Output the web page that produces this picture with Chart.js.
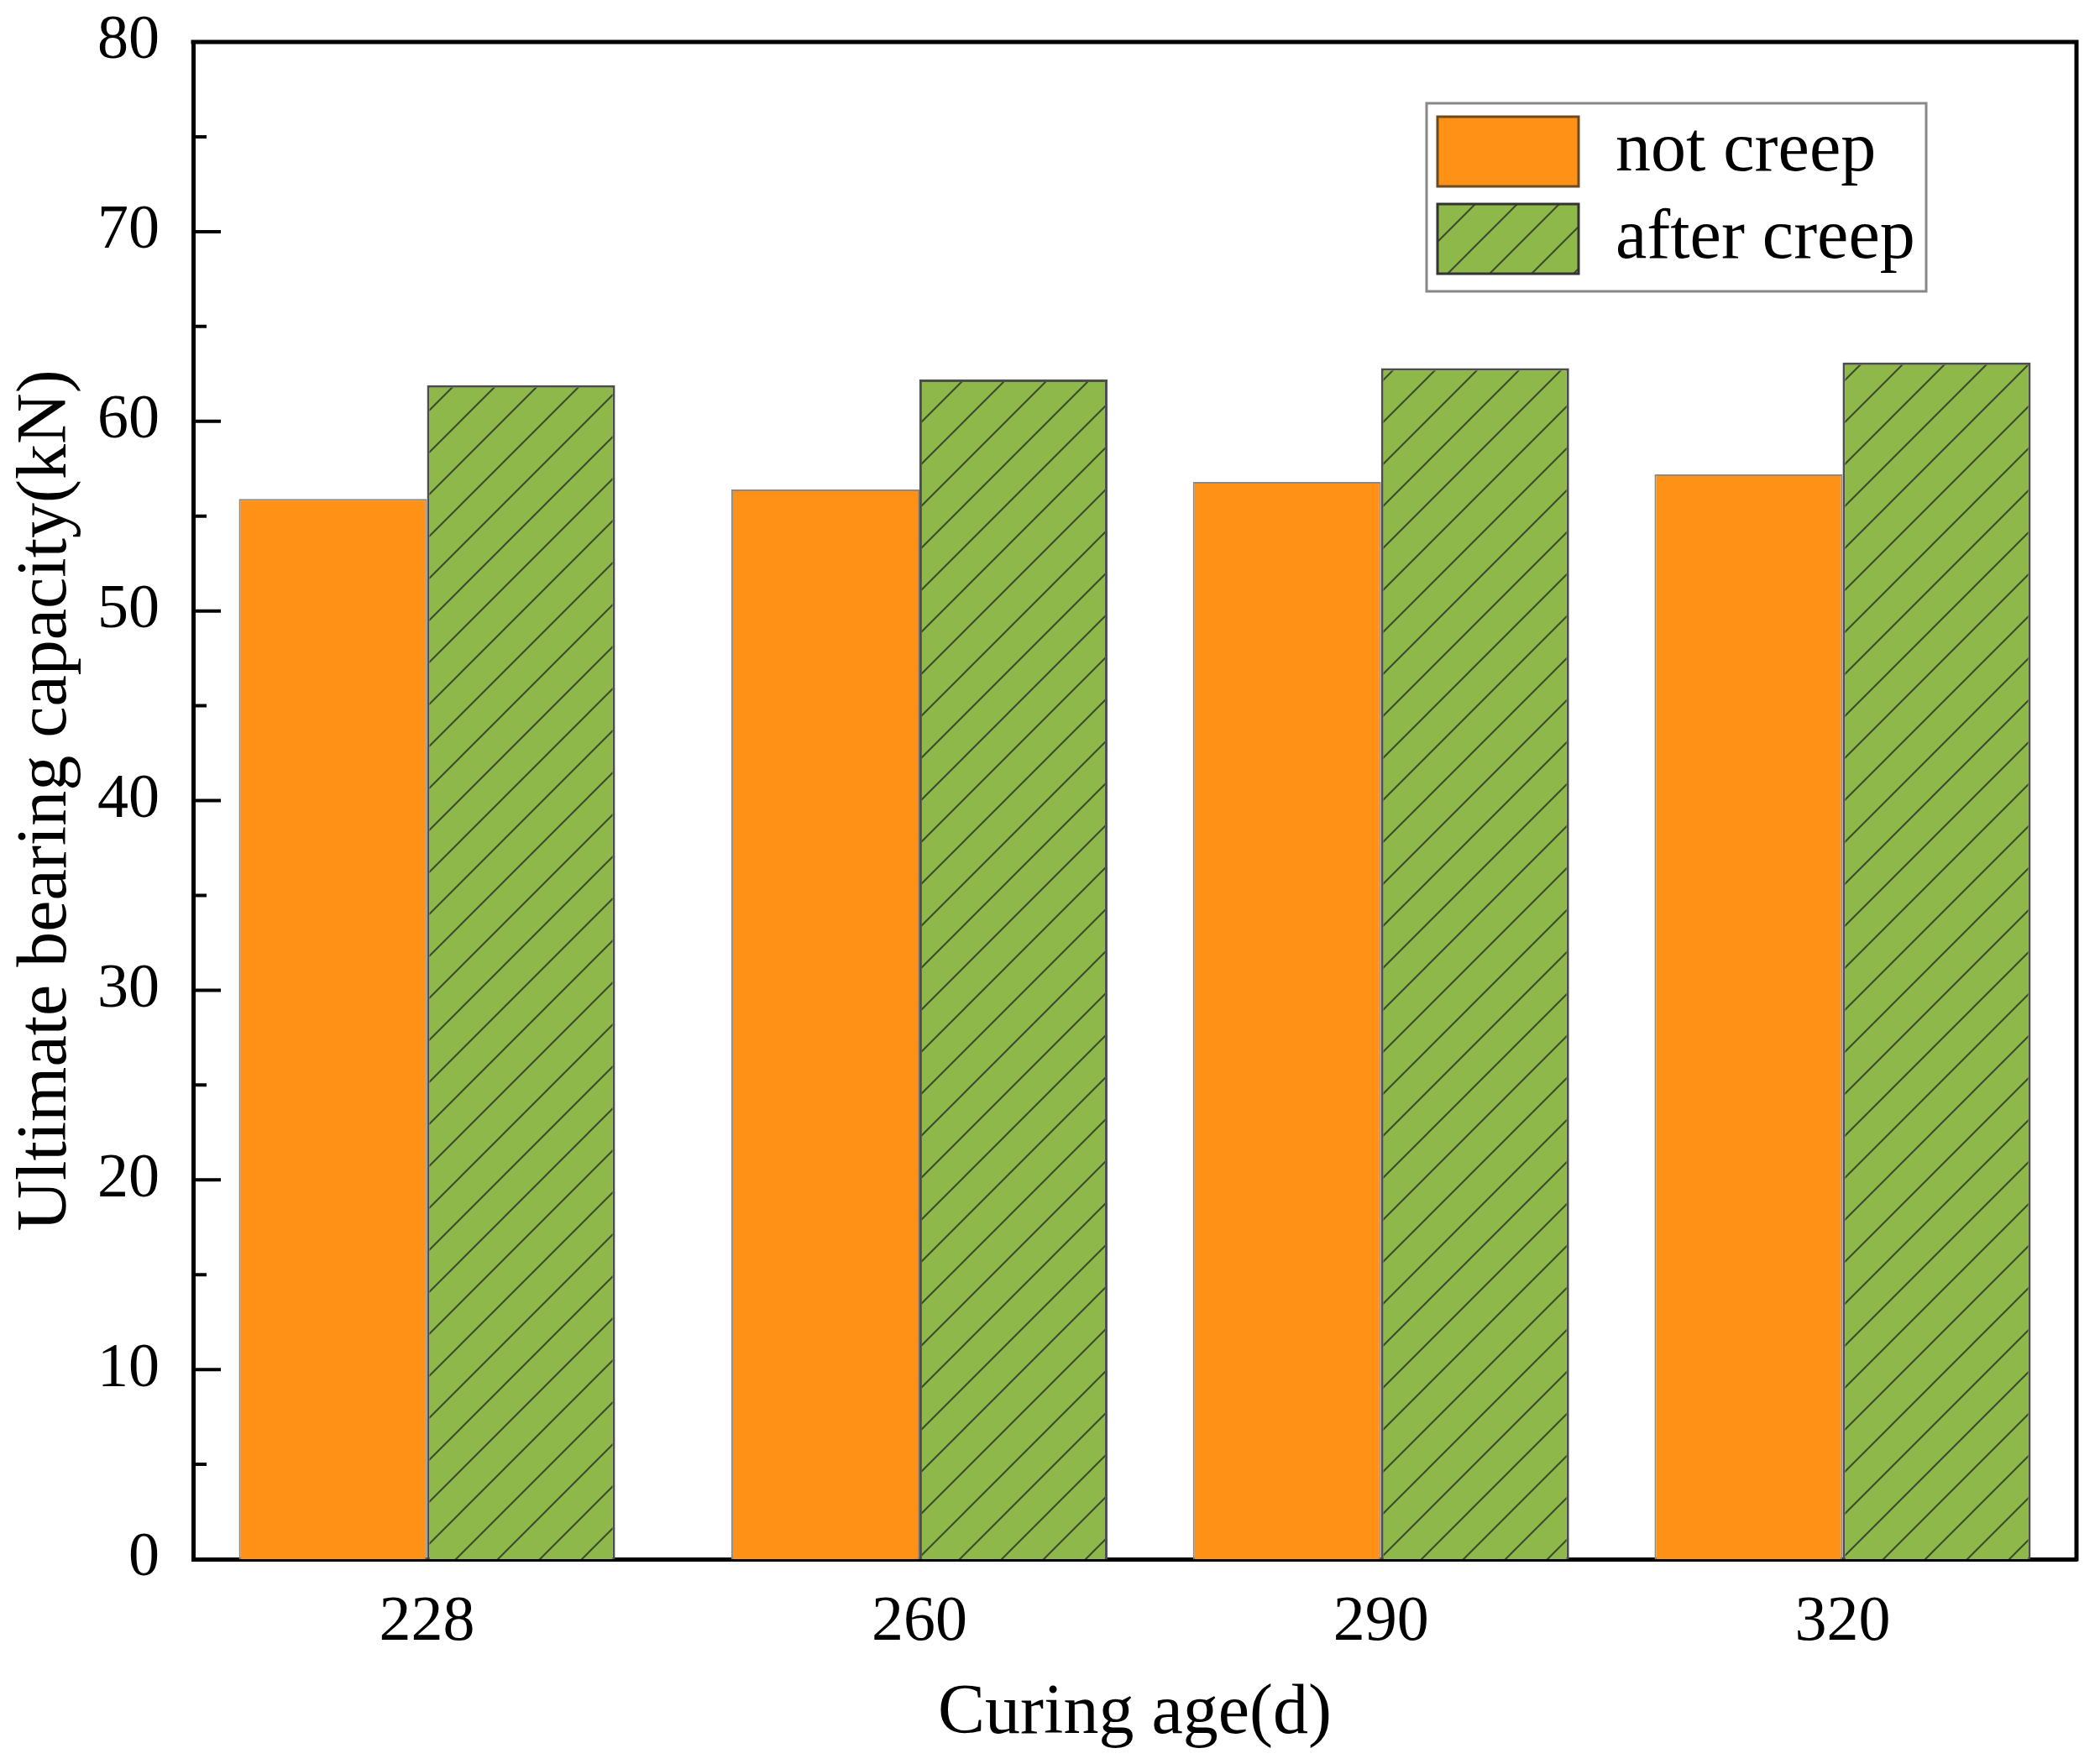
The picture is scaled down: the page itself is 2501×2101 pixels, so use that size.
<!DOCTYPE html>
<html>
<head>
<meta charset="utf-8">
<script src="https://cdn.jsdelivr.net/npm/chart.js@4.4.1/dist/chart.umd.min.js"></script>
<style>
  html, body { margin: 0; padding: 0; background: #fff; }
  canvas { display: block; }
</style>
</head>
<body>
<canvas id="chart" width="2501" height="2101"></canvas>
<script>
// data
const curingAge = [228, 260, 290, 320];
const notCreep = [55.9, 56.4, 56.8, 57.2];
const afterCreep = [61.9, 62.2, 62.8, 63.1];
const yTicks = [0, 10, 20, 30, 40, 50, 60, 70, 80];
const seriesNames = ['not creep', 'after creep'];

const FONT = "'Liberation Serif', 'Times New Roman', serif";
const orange = '#FF9116';
const green = '#8EB84A';

// hatch fill for the "after creep" bars
function makeHatch() {
  const c = document.createElement('canvas');
  c.width = 50; c.height = 50;
  const g = c.getContext('2d');
  g.fillStyle = green;
  g.fillRect(0, 0, 50, 50);
  g.strokeStyle = '#3b4a2c';
  g.lineWidth = 2;
  g.beginPath();
  g.moveTo(0, 50); g.lineTo(50, 0);
  g.moveTo(-5, 5); g.lineTo(5, -5);
  g.moveTo(45, 55); g.lineTo(55, 45);
  g.stroke();
  return g.createPattern(c, 'repeat');
}
const hatch = makeHatch();

// frame, inward ticks and legend box
const extras = {
  id: 'extras',
  afterDraw(chart) {
    const ctx = chart.ctx;
    const a = chart.chartArea;
    const y = chart.scales.y;
    ctx.save();
    ctx.strokeStyle = '#000';
    ctx.lineWidth = 5;
    ctx.beginPath();
    ctx.moveTo(a.left - 2.5, a.top);
    ctx.lineTo(a.right, a.top);
    ctx.lineTo(a.right, a.bottom + 2.5);
    ctx.stroke();

    // major + minor ticks on y, pointing inward
    ctx.lineWidth = 4;
    ctx.beginPath();
    yTicks.forEach((v, i) => {
      const py = y.getPixelForValue(v);
      ctx.moveTo(a.left, py); ctx.lineTo(a.left + 33, py);
      if (i < yTicks.length - 1) {
        const pm = y.getPixelForValue((v + yTicks[i + 1]) / 2);
        ctx.moveTo(a.left, pm); ctx.lineTo(a.left + 16, pm);
      }
    });
    ctx.stroke();

    // legend
    const bx = a.right - 179 - 595, by = a.top + 73;
    ctx.fillStyle = '#fff';
    ctx.fillRect(bx, by, 595, 224);
    ctx.strokeStyle = '#888';
    ctx.lineWidth = 3;
    ctx.strokeRect(bx, by, 595, 224);
    const fills = [orange, hatch];
    const borders = ['#6b4a1e', '#333'];
    ctx.font = '84px ' + FONT;
    ctx.textBaseline = 'middle';
    ctx.textAlign = 'left';
    seriesNames.forEach((name, i) => {
      const sy = by + 16 + i * 104;
      ctx.fillStyle = fills[i];
      ctx.fillRect(bx + 13, sy, 168, 83);
      ctx.strokeStyle = borders[i];
      ctx.lineWidth = 3;
      ctx.strokeRect(bx + 13, sy, 168, 83);
      ctx.fillStyle = '#000';
      ctx.fillText(name, bx + 225, sy + 42);
    });
    ctx.restore();
  }
};

const chart = new Chart(document.getElementById('chart'), {
  type: 'bar',
  data: {
    datasets: [
      {
        label: seriesNames[0],
        data: curingAge.map((x, i) => ({ x: x, y: notCreep[i] })),
        backgroundColor: orange,
        borderColor: '#8a8a8a',
        borderWidth: 2,
        categoryPercentage: 0.815,
        barPercentage: 1.0
      },
      {
        label: seriesNames[1],
        data: curingAge.map((x, i) => ({ x: x, y: afterCreep[i] })),
        backgroundColor: hatch,
        borderColor: '#4d4d4d',
        borderWidth: 3,
        categoryPercentage: 0.815,
        barPercentage: 1.0
      }
    ]
  },
  options: {
    responsive: false,
    devicePixelRatio: 1,
    animation: false,
    layout: { padding: { left: 0, top: 50, right: 28, bottom: 0 } },
    plugins: {
      legend: { display: false },
      tooltip: { enabled: false }
    },
    scales: {
      x: {
        type: 'linear',
        min: 212.8,
        max: 335.2,
        offset: false,
        afterBuildTicks(scale) {
          scale.ticks = curingAge.map(v => ({ value: v }));
        },
        afterFit(scale) {
          scale.height = 244;
          scale.paddingLeft = 0;
          scale.paddingRight = 0;
        },
        grid: { display: false, drawTicks: false },
        border: { display: true, color: '#000', width: 5 },
        ticks: {
          padding: 30,
          color: '#000',
          font: { family: FONT, size: 76 },
          callback: v => String(v)
        },
        title: {
          display: true,
          text: 'Curing age(d)',
          color: '#000',
          font: { family: FONT, size: 84 },
          padding: { top: 0, bottom: 9 }
        }
      },
      y: {
        min: 0,
        max: 80,
        afterBuildTicks(scale) {
          scale.ticks = yTicks.map(v => ({ value: v }));
        },
        afterFit(scale) {
          scale.width = 230;
          scale.paddingTop = 0;
          scale.paddingBottom = 0;
        },
        grid: { display: false, drawTicks: false },
        border: { display: true, color: '#000', width: 5 },
        ticks: {
          padding: 40,
          color: '#000',
          font: { family: FONT, size: 74 }
        },
        title: {
          display: true,
          text: 'Ultimate bearing capacity(kN)',
          color: '#000',
          font: { family: FONT, size: 84 },
          padding: { top: 6, bottom: 0 }
        }
      }
    }
  },
  plugins: [extras]
});
</script>
</body>
</html>
